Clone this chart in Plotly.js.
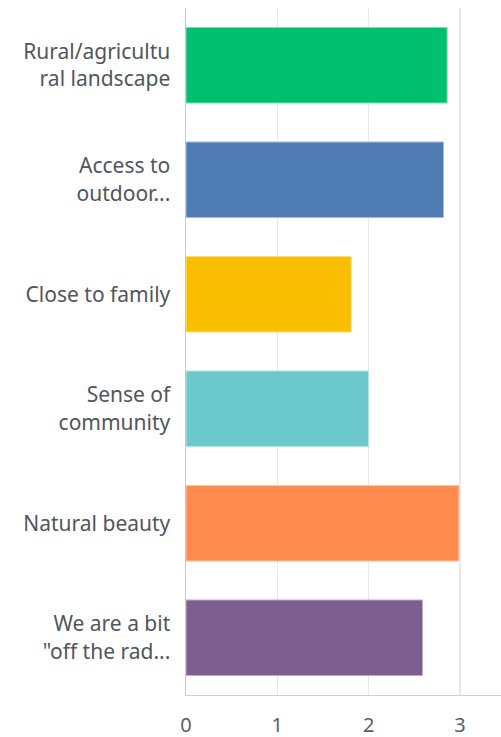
<!DOCTYPE html>
<html>
<head>
<meta charset="utf-8">
<script src="https://cdn.plot.ly/plotly-3.0.1.min.js"></script>
<style>
html,body{margin:0;padding:0;background:#fff;}
#chart{width:501px;height:737px;}
</style>
</head>
<body>
<div id="chart"></div>
<script>
const categories = [
  "Rural/agricultu<br>ral landscape",
  "Access to<br>outdoor...",
  "Close to family",
  "Sense of<br>community",
  "Natural beauty",
  "We are a bit<br>\"off the rad..."
];
const values = [2.86, 2.82, 1.81, 2.0, 2.99, 2.59];
const colors = ["#00bf6f", "#507cb6", "#f9be00", "#6bc8cd", "#ff8b4f", "#7d5e90"];
const edgeColors = ["#7fdfb7", "#a7bddb", "#fcdf80", "#b5e3e6", "#ffc5a7", "#beafc7"];
const xTicks = [0, 1, 2, 3];

const trace = {
  type: "bar",
  orientation: "h",
  y: categories,
  x: values,
  marker: { color: colors, line: { color: edgeColors, width: 1 } },
  hoverinfo: "none"
};

const layout = {
  width: 501,
  height: 737,
  margin: { l: 186, r: 0, t: 8, b: 42, pad: 0 },
  paper_bgcolor: "#ffffff",
  plot_bgcolor: "#ffffff",
  bargap: 0.34,
  showlegend: false,
  font: { family: "Noto Sans, sans-serif", color: "#50565e", size: 20 },
  xaxis: {
    range: [0, 3.45],
    tickvals: xTicks,
    ticktext: xTicks.map(String),
    showgrid: true,
    gridcolor: "#e8e8e8",
    gridwidth: 1.5,
    zeroline: false,
    showline: true,
    linecolor: "#d0d0d0",
    linewidth: 1,
    ticks: "outside",
    ticklen: 12,
    tickcolor: "rgba(0,0,0,0)",
    tickfont: { size: 20, color: "#5a6068" },
    fixedrange: true
  },
  yaxis: {
    autorange: "reversed",
    showgrid: false,
    zeroline: false,
    showline: true,
    linecolor: "#c8c8c8",
    linewidth: 1.5,
    ticks: "outside",
    ticklen: 10,
    tickcolor: "rgba(0,0,0,0)",
    tickfont: { size: 21, color: "#50565e" },
    fixedrange: true
  }
};

Plotly.newPlot("chart", [trace], layout, { displayModeBar: false, staticPlot: true });
</script>
</body>
</html>
